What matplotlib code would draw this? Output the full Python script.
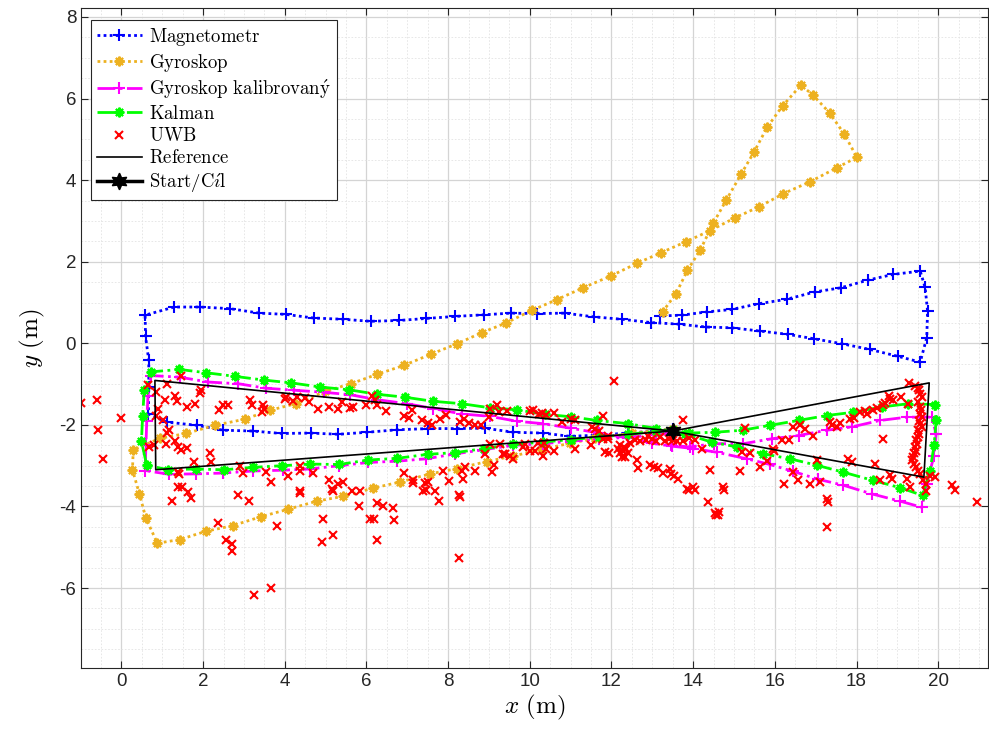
import matplotlib
matplotlib.use('Agg')
import matplotlib.pyplot as plt
from matplotlib.ticker import MultipleLocator

plt.rcParams['mathtext.fontset'] = 'cm'
plt.rcParams['font.family'] = ['Liberation Sans', 'DejaVu Sans']
plt.rcParams['axes.unicode_minus'] = False

# --- data ---
mag_x = [13.5, 13.1, 12.4, 11.7, 10.98, 10.32, 9.6, 8.9, 8.21, 7.51, 6.74, 6.02, 5.31, 4.64, 3.92,
         3.21, 2.49, 1.84, 1.11, 0.66, 0.67, 0.67, 0.59, 0.58, 1.29, 1.92, 2.66, 3.38, 4.02, 4.71,
         5.42, 6.10, 6.8, 7.47, 8.18, 8.88, 9.53, 10.17, 10.86, 11.56, 12.25, 12.96, 13.65, 14.31, 14.96,
         15.64, 16.32, 16.97, 17.64, 18.33, 19.02, 19.56, 19.72, 19.74, 19.68, 19.56, 18.9, 18.28, 17.61, 16.98,
         16.29, 15.6, 14.94, 14.33, 13.72, 13.19]
mag_y = [-2.1, -2.15, -2.2, -2.25, -2.28, -2.2, -2.18, -2.08, -2.09, -2.09, -2.12, -2.18, -2.23, -2.2, -2.21,
         -2.15, -2.13, -2.01, -1.93, -1.73, -1.08, -0.42, 0.17, 0.69, 0.89, 0.89, 0.85, 0.74, 0.71, 0.62,
         0.59, 0.54, 0.56, 0.61, 0.66, 0.70, 0.74, 0.73, 0.74, 0.65, 0.59, 0.51, 0.47, 0.40, 0.38,
         0.30, 0.22, 0.11, -0.01, -0.15, -0.32, -0.46, 0.14, 0.79, 1.37, 1.77, 1.69, 1.55, 1.36, 1.26,
         1.08, 0.97, 0.83, 0.77, 0.69, 0.67]

gyr_x = [13.5, 12.5, 11.6, 10.98, 10.3, 9.6, 8.94, 8.22, 7.56, 6.82, 6.16, 5.43, 4.78, 4.07, 3.42,
         2.72, 2.06, 1.43, 0.88, 0.6, 0.44, 0.27, 0.29, 0.94, 1.58, 2.29, 3.02, 3.64, 4.27, 4.98,
         5.62, 6.26, 6.92, 7.57, 8.22, 8.82, 9.42, 10.05, 10.66, 11.3, 11.98, 12.62, 13.21, 13.82, 14.41,
         15.03, 15.62, 16.21, 16.86, 17.53, 18.01, 17.7, 17.34, 16.93, 16.64, 16.19, 15.82, 15.49, 15.17, 14.81,
         14.49, 14.17, 13.86, 13.58, 13.25]
gyr_y = [-2.1, -2.2, -2.33, -2.45, -2.6, -2.76, -2.9, -3.07, -3.2, -3.4, -3.55, -3.75, -3.87, -4.07, -4.25,
         -4.47, -4.61, -4.81, -4.9, -4.29, -3.69, -3.1, -2.61, -2.33, -2.21, -2.01, -1.86, -1.64, -1.48, -1.18,
         -0.99, -0.76, -0.54, -0.27, -0.01, 0.26, 0.5, 0.81, 1.07, 1.36, 1.65, 1.96, 2.22, 2.49, 2.76,
         3.08, 3.35, 3.67, 3.96, 4.31, 4.56, 5.13, 5.65, 6.09, 6.33, 5.82, 5.31, 4.69, 4.14, 3.51,
         2.94, 2.28, 1.79, 1.22, 0.77]

gk_x = [13.45, 13.1, 12.4, 11.7, 11.0, 10.32, 9.6, 8.86, 8.17, 7.47, 6.74, 6.05, 5.33, 4.62, 3.95,
        3.21, 2.49, 1.82, 1.17, 0.58, 0.6, 0.62, 0.65, 0.72, 1.43, 2.13, 2.86, 3.53, 4.23, 4.96,
        5.6, 6.25, 6.99, 7.64, 8.33, 9.02, 9.68, 10.33, 11.0, 11.7, 12.4, 13.0, 13.47, 14.0, 14.58,
        15.31, 15.88, 16.45, 17.05, 17.68, 18.37, 19.07, 19.6, 19.72, 19.9, 19.95, 19.84, 19.23, 18.58, 17.88,
        17.27, 16.58, 15.92, 15.23, 14.5, 13.92, 13.45]
gk_y = [-2.2, -2.25, -2.3, -2.35, -2.4, -2.46, -2.5, -2.61, -2.71, -2.83, -2.89, -2.92, -3.0, -3.08, -3.11,
        -3.13, -3.18, -3.2, -3.21, -3.12, -2.5, -1.9, -1.3, -0.79, -0.83, -0.95, -0.99, -1.1, -1.15, -1.2,
        -1.26, -1.38, -1.48, -1.6, -1.73, -1.79, -1.91, -1.97, -2.08, -2.2, -2.32, -2.45, -2.52, -2.58, -2.67,
        -2.83, -2.97, -3.14, -3.33, -3.48, -3.69, -3.87, -4.02, -3.44, -2.75, -2.22, -1.81, -1.81, -1.89, -2.05,
        -2.13, -2.26, -2.34, -2.46, -2.46, -2.54, -2.5]

kal_x = [13.5, 13.1, 12.4, 11.7, 11.0, 10.32, 9.6, 8.88, 8.17, 7.51, 6.74, 6.05, 5.33, 4.62, 3.93,
         3.23, 2.51, 1.82, 1.15, 0.62, 0.49, 0.52, 0.56, 0.72, 1.42, 2.07, 2.78, 3.48, 4.16, 4.86,
         5.58, 6.27, 6.94, 7.62, 8.33, 9.02, 9.68, 10.37, 11.0, 11.64, 12.41, 13.1, 13.8, 14.45, 15.07,
         15.72, 16.37, 17.03, 17.68, 18.4, 19.07, 19.62, 19.8, 19.9, 19.95, 19.91, 19.27, 18.62, 17.92, 17.27,
         16.58, 15.88, 15.21, 14.54, 13.9, 13.5]
kal_y = [-2.12, -2.16, -2.23, -2.3, -2.36, -2.42, -2.48, -2.58, -2.68, -2.72, -2.82, -2.86, -2.97, -2.96, -3.0,
         -3.04, -3.1, -3.08, -3.1, -2.99, -2.4, -1.77, -1.14, -0.70, -0.64, -0.72, -0.81, -0.9, -0.97, -1.07,
         -1.14, -1.25, -1.32, -1.42, -1.48, -1.58, -1.63, -1.74, -1.8, -1.89, -1.97, -2.09, -2.22, -2.42, -2.54,
         -2.71, -2.83, -2.99, -3.16, -3.36, -3.54, -3.73, -3.12, -2.5, -1.89, -1.5, -1.48, -1.56, -1.69, -1.77,
         -1.89, -2.01, -2.13, -2.18, -2.2, -2.12]

ref_x = [13.5, 0.84, 0.82, 13.5, 19.65, 19.78, 13.5]
ref_y = [-2.15, -3.1, -0.91, -2.15, -3.28, -0.97, -2.15]
start_x = [13.5]
start_y = [-2.15]

uwb_pts = [
    (-0.98, -1.46), (-0.61, -1.38), (-0.57, -2.12), (-0.45, -2.84), (-0.02, -1.82),
    (0.66, -1.03), (0.84, -1.19), (0.84, -1.79), (0.9, -1.62), (0.68, -2.54), (0.8, -2.5),
    (1.11, -0.99), (1.07, -1.38), (1.31, -1.3), (1.35, -1.42), (1.47, -0.79), (1.6, -1.55), (1.8, -1.48),
    (1.96, -1.14), (1.93, -1.22), (1.02, -1.89), (1.17, -2.13), (1.12, -2.2), (1.09, -2.46), (1.3, -2.4),
    (1.39, -2.54), (1.6, -2.56), (1.45, -2.62), (1.78, -2.9), (1.39, -3.16), (1.42, -3.2), (1.64, -3.65),
    (1.7, -3.79), (1.24, -3.87), (1.38, -3.51), (1.48, -3.51),
    (2.17, -2.68), (2.19, -2.91), (2.4, -1.64), (2.48, -1.5), (2.62, -1.52), (2.36, -4.41), (2.55, -4.82),
    (2.7, -4.93), (2.7, -5.08), (2.9, -3.01), (2.97, -3.18), (2.86, -3.73),
    (3.15, -1.4), (3.2, -1.52), (3.43, -1.69), (3.47, -1.52), (3.5, -1.6), (3.54, -3.16), (3.66, -3.39),
    (3.13, -3.87), (3.8, -4.48), (3.25, -6.16), (3.66, -6.0),
    (4.0, -1.36), (4.03, -1.32), (4.3, -1.32), (4.5, -1.35), (4.2, -1.42), (4.6, -1.45), (4.82, -1.6),
    (4.09, -3.25), (4.37, -3.01), (4.38, -3.12), (4.7, -3.17), (4.37, -3.61), (4.38, -3.68), (4.94, -4.3), (4.92, -4.86),
    (5.09, -1.55), (5.3, -1.6), (5.4, -1.45), (5.6, -1.58), (5.68, -1.56), (5.99, -1.52), (5.09, -3.35),
    (5.15, -3.57), (5.18, -3.62), (5.3, -3.45), (5.17, -4.69), (5.42, -3.4), (5.64, -3.61), (5.84, -3.61), (5.82, -3.99),
    (6.13, -1.28), (6.2, -1.4), (6.25, -1.5), (6.48, -1.66), (6.09, -4.3), (6.18, -4.3), (6.25, -3.91),
    (6.4, -3.99), (6.66, -4.04), (6.68, -4.34), (6.25, -4.82),
    (6.92, -1.79), (7.11, -1.64), (7.05, -1.82), (7.35, -1.89), (7.5, -1.95), (7.6, -2.0), (7.8, -1.85),
    (7.95, -1.75), (6.92, -3.17), (7.13, -3.36), (7.14, -3.43), (7.38, -3.61), (7.45, -3.6), (7.5, -3.4),
    (7.69, -3.63), (7.78, -3.87), (7.88, -3.12), (7.43, -3.43),
    (8.29, -1.93), (8.4, -1.85), (8.5, -1.95), (8.65, -2.0), (8.8, -2.0), (8.02, -3.38), (8.27, -3.73),
    (8.3, -3.77), (8.36, -3.32), (8.41, -3.02), (8.33, -3.12), (8.67, -3.13), (8.9, -2.71), (8.27, -5.26),
    (9.02, -1.6), (9.19, -1.52), (9.25, -1.68), (9.45, -1.66), (9.0, -1.8), (9.07, -3.16), (9.12, -2.98),
    (9.02, -2.46), (9.27, -2.48), (9.39, -2.71), (9.58, -2.83), (9.84, -2.54), (9.35, -2.71), (9.51, -2.75),
    (10.0, -1.66), (10.3, -1.7), (10.07, -1.64), (10.23, -1.73), (10.4, -1.76), (10.59, -1.71), (10.78, -1.93),
    (10.0, -2.63), (10.2, -2.45), (10.35, -2.45), (10.4, -2.6), (10.59, -2.63), (10.33, -2.75), (10.13, -2.63), (9.88, -2.46),
    (11.11, -1.89), (11.0, -1.85), (11.52, -2.04), (11.6, -2.1), (11.7, -2.15), (11.79, -1.79), (11.92, -2.26),
    (11.8, -2.35), (11.92, -2.35), (11.11, -2.58), (11.5, -2.5), (11.84, -2.67), (11.95, -2.7),
    (12.05, -0.93), (12.21, -2.5), (12.29, -2.63), (12.35, -2.6), (12.2, -2.7), (12.33, -2.79), (12.25, -2.79),
    (12.4, -2.68), (12.3, -2.55), (12.15, -2.6), (12.45, -2.45), (12.58, -2.38), (12.7, -2.4), (12.85, -2.38),
    (12.9, -2.28), (12.99, -2.34), (13.1, -2.4), (13.2, -2.3), (13.3, -2.4), (13.4, -2.35), (13.51, -2.38),
    (13.6, -2.4), (13.76, -1.89), (13.75, -2.4), (13.9, -2.33), (14.05, -2.38), (14.21, -2.58),
    (12.63, -2.87), (12.66, -3.05), (12.94, -2.99), (13.05, -3.03), (13.15, -3.05), (13.27, -3.18), (13.43, -3.08),
    (13.45, -3.2), (13.52, -3.25), (13.64, -3.32), (13.84, -3.57), (13.9, -3.6), (14.0, -3.53), (14.05, -3.6),
    (14.41, -3.1), (14.72, -3.53), (14.76, -3.6), (14.37, -3.89), (14.53, -4.16), (14.6, -4.2), (14.64, -4.14), (14.55, -4.22),
    (15.27, -2.07), (15.15, -3.13), (15.2, -2.67), (15.4, -2.7), (15.64, -3.02), (15.8, -2.89), (15.96, -2.58),
    (15.98, -2.65), (16.17, -2.38), (16.35, -2.38), (16.45, -2.05), (16.62, -2.01), (16.75, -2.1), (16.94, -2.26),
    (16.22, -3.46), (16.45, -3.16), (16.57, -3.36), (16.86, -3.44), (17.03, -2.87), (17.1, -3.4), (17.27, -3.81),
    (17.3, -3.9), (17.27, -4.51),
    (17.35, -1.93), (17.4, -2.0), (17.52, -2.05), (17.6, -1.95), (17.84, -1.85), (17.95, -1.82), (18.09, -1.69),
    (18.25, -1.73), (18.2, -1.65), (18.41, -1.64), (18.5, -1.58), (18.66, -1.52), (18.7, -1.46), (18.82, -1.36),
    (18.9, -1.4), (19.08, -1.32), (19.27, -1.48), (19.29, -0.97), (19.43, -1.05), (19.5, -1.1), (18.8, -1.3),
    (18.64, -2.34), (17.8, -2.83), (17.9, -2.9), (18.45, -2.95), (18.82, -3.24), (18.86, -3.32), (18.58, -3.36),
    (19.23, -3.32), (19.31, -3.53), (19.64, -3.36), (19.7, -3.45), (19.8, -3.25), (19.92, -3.28), (19.71, -3.61),
    (20.33, -3.48), (20.41, -3.59), (20.95, -3.89),
    (19.52, -1.15), (19.55, -1.23), (19.6, -1.32), (19.5, -1.45), (19.56, -1.55), (19.58, -1.64), (19.55, -1.73),
    (19.6, -1.81), (19.52, -1.9), (19.55, -1.97), (19.6, -2.05), (19.5, -2.13), (19.52, -2.22), (19.5, -2.3),
    (19.45, -2.38), (19.48, -2.46), (19.42, -2.55), (19.45, -2.63), (19.4, -2.7), (19.38, -2.79), (19.35, -2.87),
    (19.4, -2.95), (19.45, -3.04), (19.5, -3.12), (19.55, -3.2),
]
uwb_x = [p[0] for p in uwb_pts]
uwb_y = [p[1] for p in uwb_pts]

# --- figure ---
fig = plt.figure(figsize=(9.89, 7.49), dpi=100)
ax = fig.add_axes([0.0819, 0.1081, 0.9171, 0.8812])

orange = '#EDB120'
ast = (8, 2, 0)  # asterisk like MATLAB '*'
dots = (0, (1, 1.2))

ax.plot(mag_x, mag_y, ls=dots, color='blue', lw=2, marker='+', ms=8, mew=1.5, label=r'$\mathrm{Magnetometr}$')
ax.plot(gyr_x, gyr_y, ls=dots, color=orange, lw=2, marker=ast, ms=7, mew=1.5, label=r'$\mathrm{Gyroskop}$')
ax.plot(gk_x, gk_y, '-.', color='magenta', lw=2, marker='+', ms=8, mew=1.5,
        label=r'$\mathrm{Gyroskop\ kalibrovan\acute{y}}$')
ax.plot(kal_x, kal_y, '-.', color=(0, 1, 0), lw=2, marker=ast, ms=7, mew=1.5, label=r'$\mathrm{Kalman}$')
ax.plot(uwb_x, uwb_y, 'x', color='red', ms=6, mew=1.5, label=r'$\mathrm{UWB}$')
ax.plot(ref_x, ref_y, '-', color='black', lw=1.2, label=r'$\mathrm{Reference}$')
ax.plot(start_x, start_y, '-', color='black', lw=2.5, marker=(6, 1, 0), ms=12,
        label=r'$\mathrm{Start/C\acute{\imath}l}$')

ax.set_xlim(-0.99, 21.22)
ax.set_ylim(-7.96, 8.22)

ax.xaxis.set_minor_locator(MultipleLocator(0.5))
ax.yaxis.set_minor_locator(MultipleLocator(0.5))
ax.set_xticks(range(0, 21, 2))
ax.set_yticks(range(-6, 9, 2))
ax.tick_params(which='major', direction='in', length=5, width=0.8, top=True, right=True,
               labelsize=13.5, colors='#262626')
ax.tick_params(which='minor', length=0, top=True, right=True)
ax.grid(which='major', color='#d4d4d4', lw=0.9, ls='-')
ax.grid(which='minor', color='#e3e3e3', lw=0.6, ls=(0, (2, 2)))
ax.set_axisbelow(True)
for s in ax.spines.values():
    s.set_color('#262626')
    s.set_linewidth(0.8)

ax.set_xlabel(r'$x\ \mathrm{(m)}$', fontsize=18, labelpad=2)
ax.set_ylabel(r'$y\ \mathrm{(m)}$', fontsize=18, labelpad=9)

leg = ax.legend(loc='upper left', bbox_to_anchor=(0.011, 0.982), borderaxespad=0,
                fontsize=13.5, handlelength=2.4, handletextpad=0.4, labelspacing=0.22,
                fancybox=False, framealpha=1, edgecolor='#262626', borderpad=0.3)
leg.get_frame().set_linewidth(0.8)

fig.savefig('out.png', dpi=100)
